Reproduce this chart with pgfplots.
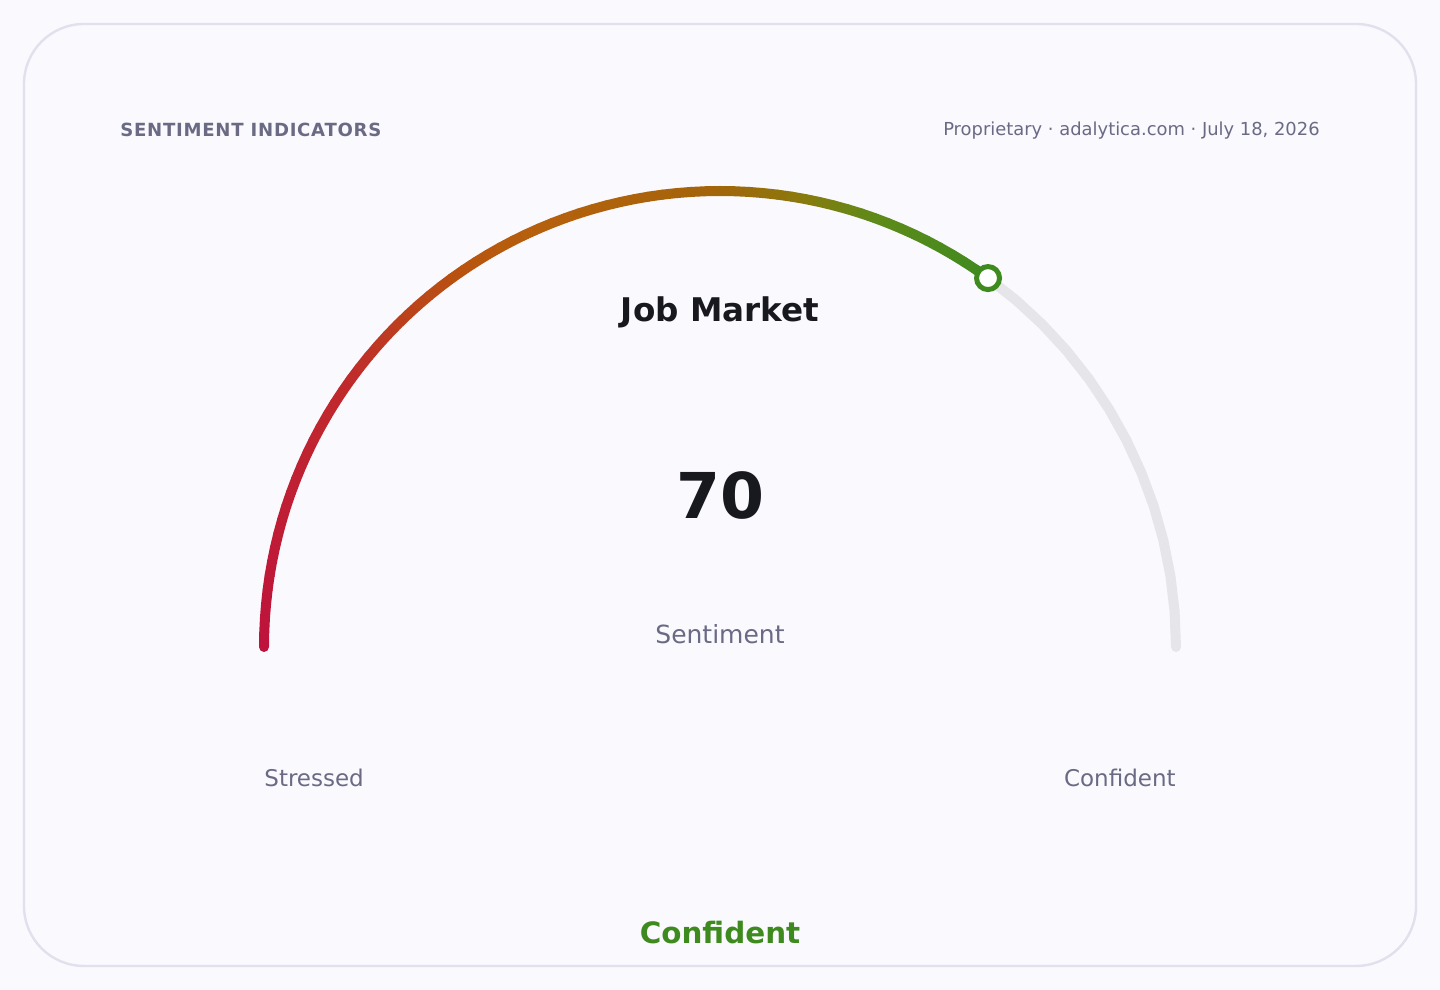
\documentclass[border=0pt]{standalone}
\usepackage{pgfplots}
\pgfplotsset{compat=1.18}
\usepackage{pgfplotstable}
\usepackage{fontspec}
\setmainfont{DejaVu Sans}

\definecolor{pagebg}{HTML}{F9F9FE}
\definecolor{cardline}{HTML}{E1E1EE}
\definecolor{muted}{HTML}{6B6A85}
\definecolor{ink}{HTML}{18181F}
\definecolor{ggreen}{HTML}{3F8A1F}
\definecolor{track}{HTML}{E6E6EA}
\definecolor{c0}{HTML}{BE123C}
\definecolor{c20}{HTML}{C02A2C}
\definecolor{c31}{HTML}{B8530F}
\definecolor{c37}{HTML}{B6600C}
\definecolor{c50}{HTML}{A4640A}
\definecolor{c56}{HTML}{8A7A0C}
\definecolor{c61}{HTML}{5F8A18}
\definecolor{c70}{HTML}{3F8A1F}

% gauge arc samples: value v on 0..100 (180 deg .. 0 deg), radius r in px
\pgfplotstableread[row sep=\\]{
v r\\
0 456\\ 1 456\\ 2 456\\ 3 456\\ 4 456\\ 5 456\\ 6 456\\ 7 456\\ 8 456\\ 9 456\\
10 456\\ 11 456\\ 12 456\\ 13 456\\ 14 456\\ 15 456\\ 16 456\\ 17 456\\ 18 456\\ 19 456\\
20 456\\ 21 456\\ 22 456\\ 23 456\\ 24 456\\ 25 456\\ 26 456\\ 27 456\\ 28 456\\ 29 456\\
30 456\\ 31 456\\ 32 456\\ 33 456\\ 34 456\\ 35 456\\ 36 456\\ 37 456\\ 38 456\\ 39 456\\
40 456\\ 41 456\\ 42 456\\ 43 456\\ 44 456\\ 45 456\\ 46 456\\ 47 456\\ 48 456\\ 49 456\\
50 456\\ 51 456\\ 52 456\\ 53 456\\ 54 456\\ 55 456\\ 56 456\\ 57 456\\ 58 456\\ 59 456\\
60 456\\ 61 456\\ 62 456\\ 63 456\\ 64 456\\ 65 456\\ 66 456\\ 67 456\\ 68 456\\ 69 456\\
70 456\\
}\gaugefilled
\pgfplotstableread[row sep=\\]{
v r\\
70 456\\ 72.5 456\\ 75 456\\ 77.5 456\\ 80 456\\ 82.5 456\\ 85 456\\ 87.5 456\\
90 456\\ 92.5 456\\ 95 456\\ 97.5 456\\ 100 456\\
}\gaugetrack
\pgfplotstableread[row sep=\\]{
v r\\
70 456\\
}\gaugenow

\begin{document}
\begin{tikzpicture}
\begin{axis}[
    width=720bp, height=495bp,
    scale only axis,
    xmin=0, xmax=1440, ymin=0, ymax=990,
    hide axis,
    clip=false,
    colormap={gauge}{color(0)=(c0) color(20)=(c20) color(31)=(c31) color(37)=(c37)
        color(50)=(c50) color(56)=(c56) color(61)=(c61) color(70)=(c70)},
    point meta min=0, point meta max=70,
]
% background and card
\fill[pagebg] (axis cs:0,0) rectangle (axis cs:1440,990);
\draw[cardline, line width=1.2bp, fill=pagebg, rounded corners=30bp]
    (axis cs:24,24) rectangle (axis cs:1416,966);

% track
\addplot[track, line width=5bp, line cap=round]
    table[x expr={720+\thisrow{r}*cos(180-1.8*\thisrow{v})},
          y expr={343+\thisrow{r}*sin(180-1.8*\thisrow{v})}] {\gaugetrack};
% filled gradient arc
\addplot[mesh, line width=5bp, line cap=round, point meta=explicit]
    table[x expr={720+\thisrow{r}*cos(180-1.8*\thisrow{v})},
          y expr={343+\thisrow{r}*sin(180-1.8*\thisrow{v})},
          meta=v] {\gaugefilled};
% marker
\addplot[only marks, mark=*, mark size=5.75bp,
    mark options={fill=white, draw=ggreen, line width=2.5bp}]
    table[x expr={720+\thisrow{r}*cos(180-1.8*\thisrow{v})},
          y expr={343+\thisrow{r}*sin(180-1.8*\thisrow{v})}] {\gaugenow};

% texts
\node[anchor=west, inner sep=0pt, text=muted, font=\fontsize{9.05bp}{10bp}\selectfont\bfseries\addfontfeature{LetterSpace=4}]
    at (axis cs:120,860) {SENTIMENT INDICATORS};
\node[anchor=east, inner sep=0pt, text=muted, font=\fontsize{8.95bp}{10bp}\selectfont]
    at (axis cs:1320,859) {Proprietary · adalytica.com · July 18, 2026};
\node[text=ink, font=\fontsize{16.3bp}{18bp}\selectfont\bfseries]
    at (axis cs:720,678) {Job Market};
\node[text=ink, font=\fontsize{31.6bp}{36bp}\selectfont\bfseries]
    at (axis cs:720,494) {70};
\node[text=muted, font=\fontsize{12.5bp}{14bp}\selectfont]
    at (axis cs:720,356) {Sentiment};
\node[anchor=west, inner sep=0pt, text=muted, font=\fontsize{11.5bp}{13bp}\selectfont]
    at (axis cs:264,212) {Stressed};
\node[anchor=east, inner sep=0pt, text=muted, font=\fontsize{11.5bp}{13bp}\selectfont]
    at (axis cs:1176,212) {Confident};
\node[text=ggreen, font=\fontsize{14.7bp}{17bp}\selectfont\bfseries]
    at (axis cs:720,57) {Confident};
\end{axis}
\end{tikzpicture}
\end{document}
